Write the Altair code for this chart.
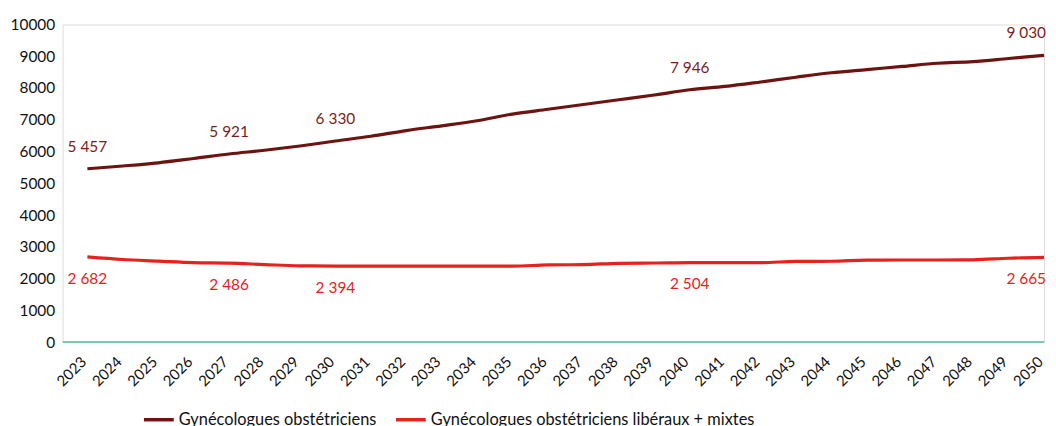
import altair as alt
import pandas as pd

years = list(range(2023, 2051))
series_names = ["Gynécologues obstétriciens", "Gynécologues obstétriciens libéraux + mixtes"]
gyn_total = [5457, 5545, 5645, 5780, 5921, 6040, 6175, 6330, 6480, 6660,
             6810, 6970, 7180, 7330, 7480, 7630, 7780, 7946, 8050, 8190,
             8340, 8480, 8580, 8680, 8780, 8830, 8930, 9030]
gyn_lib = [2682, 2600, 2550, 2500, 2486, 2440, 2400, 2394, 2390, 2390,
           2390, 2390, 2390, 2430, 2440, 2480, 2490, 2504, 2500, 2500,
           2540, 2545, 2580, 2585, 2585, 2590, 2640, 2665]
label_years = [2023, 2027, 2030, 2040, 2050]
y_ticks = list(range(0, 10001, 1000))
colors = ["#6E1410", "#E6221E"]
label_colors = ["#7A1E1A", "#E6221E"]

rows = []
for name, vals in [(series_names[0], gyn_total), (series_names[1], gyn_lib)]:
    for yr, v in zip(years, vals):
        rows.append({"year": yr, "value": v, "series": name,
                     "label": f"{v:,}".replace(",", " ") if yr in label_years else ""})
df = pd.DataFrame(rows)

FONT = "Lato"
x = alt.X("year:Q", scale=alt.Scale(domain=[2022.3, 2050], nice=False, zero=False),
          axis=alt.Axis(values=years, format="d", labelAngle=-45, grid=False, ticks=False,
                        domain=False, title=None, labelFontSize=15, labelFont=FONT,
                        labelColor="#111111", labelPadding=12, labelOffset=-9,
                        labelOverlap=False, labelBound=False, labelFlush=False))
y = alt.Y("value:Q", scale=alt.Scale(domain=[0, 10000], nice=False),
          axis=alt.Axis(values=y_ticks, format="d", grid=False, ticks=False, domain=False,
                        title=None, labelFontSize=15.5, labelFont=FONT, labelColor="#111111",
                        labelPadding=8))

base = alt.Chart(df)

lines = base.mark_line(strokeWidth=3.2, interpolate="monotone").encode(
    x=x, y=y,
    color=alt.Color("series:N", scale=alt.Scale(domain=series_names, range=colors),
                    legend=alt.Legend(title=None, orient="none", legendX=80, legendY=381,
                                      direction="horizontal", symbolType="stroke",
                                      symbolStrokeWidth=3.5, symbolSize=900,
                                      labelFontSize=16.5, labelFont=FONT, labelColor="#111111",
                                      labelLimit=500, columnPadding=12, labelOffset=3)))

zero_line = alt.Chart(pd.DataFrame({"value": [0]})).mark_rule(
    color="#7DC8B0", strokeWidth=2).encode(y=y)

align_expr = alt.expr("datum.year == 2050 ? 'right' : 'center'")
dx_expr = alt.expr("datum.year == 2050 ? 2 : 0")

lab_top = base.transform_filter(alt.datum.series == series_names[0]).transform_filter(
    alt.datum.label != "").mark_text(dy=-22, dx=dx_expr, align=align_expr, fontSize=15.5,
                                     font=FONT, color=label_colors[0]).encode(
    x=x, y=y, text="label:N")
lab_bot = base.transform_filter(alt.datum.series == series_names[1]).transform_filter(
    alt.datum.label != "").mark_text(dy=22, dx=dx_expr, align=align_expr, fontSize=15.5,
                                     font=FONT, color=label_colors[1]).encode(
    x=x, y=y, text="label:N")

chart = alt.layer(lines, zero_line, lab_top, lab_bot).properties(
    width=989, height=320,
    autosize=alt.AutoSizeParams(type="none"),
    padding={"left": 55, "top": 15, "right": 4, "bottom": 90},
).configure_view(strokeWidth=0).configure(background="white")

chart.save("out.html", embed_options={"renderer": "svg", "actions": False})
